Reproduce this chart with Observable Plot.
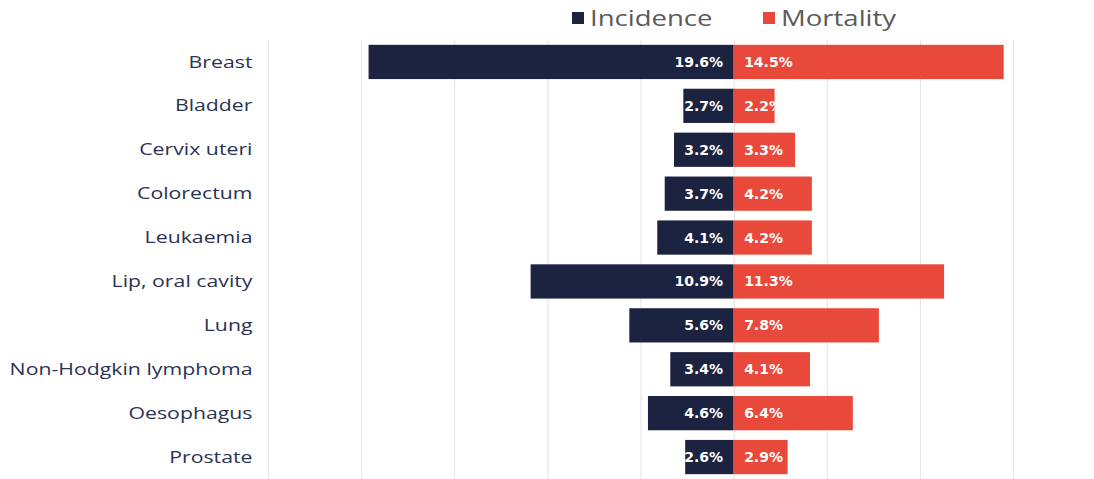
<!DOCTYPE html>
<html>
<head>
<meta charset="utf-8">
<script src="https://cdn.jsdelivr.net/npm/d3@7"></script>
<script src="https://cdn.jsdelivr.net/npm/@observablehq/plot@0.6"></script>
<style>
  html, body { margin: 0; padding: 0; background: #fff; }
  #wrap { position: relative; width: 1094px; height: 479px; }
  #legend { position: absolute; top: 4px; left: 0; width: 1094px; height: 28px; font-family: "Open Sans", sans-serif; font-size: 21px; color: #5a5a5a; }
  .item { position: absolute; top: 0; display: flex; align-items: center; height: 28px; white-space: nowrap; }
  .sw { width: 12px; height: 12px; margin-right: 6px; flex: none; }
  .lt { display: inline-block; transform: scaleX(1.31); transform-origin: left center; }
</style>
</head>
<body>
<div id="wrap">
  <div id="chart"></div>
  <div id="legend">
    <div class="item" style="left:572px"><span class="sw" style="background:#1c2340"></span><span class="lt">Incidence</span></div>
    <div class="item" style="left:763px"><span class="sw" style="background:#e8493a"></span><span class="lt">Mortality</span></div>
  </div>
</div>
<script>
const categories = ["Breast", "Bladder", "Cervix uteri", "Colorectum", "Leukaemia", "Lip, oral cavity", "Lung", "Non-Hodgkin lymphoma", "Oesophagus", "Prostate"];
const incidence = [19.6, 2.7, 3.2, 3.7, 4.1, 10.9, 5.6, 3.4, 4.6, 2.6];
const mortality = [14.5, 2.2, 3.3, 4.2, 4.2, 11.3, 7.8, 4.1, 6.4, 2.9];
const gridTicks = [-25, -20, -15, -10, -5, 0, 5, 10, 15];

const inc = categories.map((c, i) => ({cat: c, v: incidence[i]}));
const mor = categories.map((c, i) => ({cat: c, v: mortality[i]}));

const chart = Plot.plot({
  width: 1094,
  height: 479,
  marginLeft: 268,
  marginRight: 81,
  marginTop: 40,
  marginBottom: 0,
  style: {fontFamily: "'DejaVu Sans', sans-serif", background: "#fff"},
  x: {domain: [-25, 15], axis: null},
  y: {domain: categories, paddingInner: 0.22, paddingOuter: 0.11, round: false, label: null},
  marks: [
    Plot.ruleX(gridTicks, {stroke: "#e3e3e3", strokeWidth: 1}),
    Plot.axisY({tickSize: 0, tickPadding: 16, fontSize: 16, color: "#2b3252", label: null, className: "ylab"}),
    Plot.barX(inc, {y: "cat", x1: 0, x2: d => -d.v, fill: "#1c2340"}),
    Plot.barX(mor, {y: "cat", x1: 0, x2: d => d.v, fill: "#e8493a"}),
    Plot.text(inc, {y: "cat", x: 0, text: d => d.v.toFixed(1) + "%", textAnchor: "end", dx: -11, fill: "#fff", fontWeight: "bold", fontSize: 14}),
    Plot.text(mor, {y: "cat", x: 0, text: d => d.v.toFixed(1) + "%", textAnchor: "start", dx: 10, fill: "#fff", fontWeight: "bold", fontSize: 14})
  ]
});
chart.querySelectorAll(".ylab text").forEach(t => {
  t.setAttribute("font-family", "'Open Sans', sans-serif");
  t.setAttribute("transform", (t.getAttribute("transform") || "") + " scale(1.33,1)");
});
document.getElementById("chart").appendChild(chart);
</script>
</body>
</html>
